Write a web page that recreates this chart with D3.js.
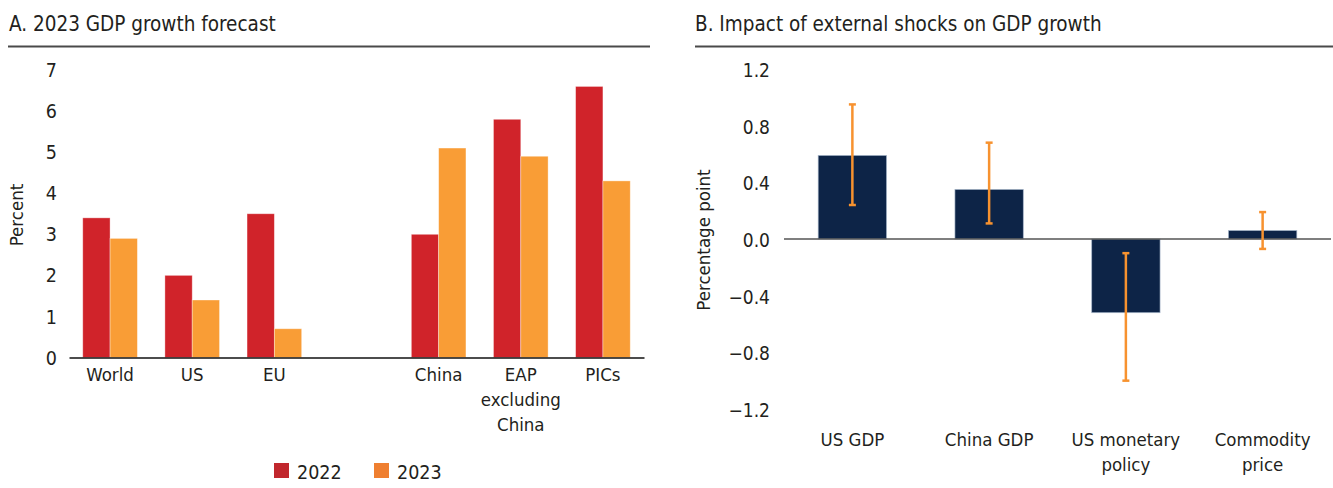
<!DOCTYPE html>
<html>
<head>
<meta charset="utf-8">
<script src="https://cdn.jsdelivr.net/npm/d3@7"></script>
<style>
  html, body { margin: 0; padding: 0; background: #fff; }
  svg { display: block; }
  text { font-family: "DejaVu Sans Condensed", "DejaVu Sans", sans-serif; fill: #231f20; }
</style>
</head>
<body>
<svg id="chart" width="1333" height="488"></svg>
<script>
// ---------- Panel A data ----------
const categoriesA = ["World", "US", "EU", "China", "EAP excluding China", "PICs"];
const seriesA = ["2022", "2023"];
const values2022 = [3.4, 2.0, 3.5, 3.0, 5.8, 6.6];
const values2023 = [2.9, 1.4, 0.7, 5.1, 4.9, 4.3];
const ticksA = [0, 1, 2, 3, 4, 5, 6, 7];
const labelLinesA = [["World"], ["US"], ["EU"], ["China"], ["EAP", "excluding", "China"], ["PICs"]];

// ---------- Panel B data ----------
const categoriesB = ["US GDP", "China GDP", "US monetary policy", "Commodity price"];
const labelLinesB = [["US GDP"], ["China GDP"], ["US monetary", "policy"], ["Commodity", "price"]];
const impactB = [0.59, 0.35, -0.52, 0.06];
const errLowB = [0.24, 0.11, -1.0, -0.07];
const errHighB = [0.95, 0.68, -0.10, 0.19];
const ticksB = [1.2, 0.8, 0.4, 0.0, -0.4, -0.8, -1.2];

const svg = d3.select("#chart");
const colA = { "2022": "#d0232a", "2023": "#f99d36" };
const legendCol = { "2022": "#c1272d", "2023": "#ef7f30" };
const FS = 18.5;

// ================= Panel A =================
const gapKey = "__gap__";
const domainA = [...categoriesA.slice(0, 3), gapKey, ...categoriesA.slice(3)];
const xA = d3.scaleBand().domain(domainA).range([69, 644]).paddingInner(0.335).paddingOuter(0.1675);
const xA2 = d3.scaleBand().domain(seriesA).range([0, xA.bandwidth()]);
const yA = d3.scaleLinear().domain([0, 7]).range([357.5, 70]);

const gA = svg.append("g");
gA.append("text").attr("x", 9).attr("y", 31).style("font-size", "20.5px").text("A. 2023 GDP growth forecast");
gA.append("line").attr("x1", 8).attr("x2", 650).attr("y1", 46.5).attr("y2", 46.5)
  .attr("stroke", "#4a4a4a").attr("stroke-width", 2);

// y axis (labels only)
const yAxisA = d3.axisLeft(yA).tickValues(ticksA).tickSize(0).tickPadding(0).tickFormat(d3.format("d"));
const yAxG = gA.append("g").attr("transform", "translate(57,0)").call(yAxisA);
yAxG.select(".domain").remove();
yAxG.selectAll("text").style("font-size", "19.5px").attr("dy", "0.34em").style("font-family", null);

gA.append("text").attr("transform", "translate(23,215) rotate(-90)").attr("text-anchor", "middle")
  .style("font-size", FS + "px").text("Percent");

const rowsA = categoriesA.map((c, i) => ({ cat: c, vals: [values2022[i], values2023[i]] }));
const groups = gA.append("g").selectAll("g").data(rowsA).join("g")
  .attr("transform", d => `translate(${xA(d.cat)},0)`);
groups.selectAll("rect").data(d => seriesA.map((s, j) => ({ s, v: d.vals[j] }))).join("rect")
  .attr("x", d => xA2(d.s)).attr("width", xA2.bandwidth())
  .attr("y", d => yA(d.v)).attr("height", d => yA(0) - yA(d.v))
  .attr("fill", d => colA[d.s])
  .attr("stroke", "rgba(255,255,255,0.45)").attr("stroke-width", 0.8);

// x axis
const xAxisA = d3.axisBottom(xA).tickSize(0).tickFormat("");
const xAxG = gA.append("g").attr("transform", `translate(0,${yA(0)})`).call(xAxisA);
xAxG.select(".domain").attr("stroke", "#111").attr("stroke-width", 1.6);
categoriesA.forEach((c, i) => {
  const t = gA.append("text").attr("text-anchor", "middle").style("font-size", FS + "px");
  labelLinesA[i].forEach((ln, k) => {
    t.append("tspan").attr("x", xA(c) + xA.bandwidth() / 2).attr("y", 381 + k * 25).text(ln);
  });
});

// legend
const legX = [274, 374];
seriesA.forEach((s, i) => {
  gA.append("rect").attr("x", legX[i]).attr("y", 463).attr("width", 15).attr("height", 15).attr("fill", legendCol[s]);
  gA.append("text").attr("x", legX[i] + 23).attr("y", 478.5).style("font-size", "19.5px").text(s);
});

// ================= Panel B =================
const xB = d3.scaleBand().domain(categoriesB).range([784, 1331]).paddingInner(0.5).paddingOuter(0.25);
const yB = d3.scaleLinear().domain([-1.2, 1.2]).range([409, 69]);
const gB = svg.append("g");
gB.append("text").attr("x", 695).attr("y", 31).style("font-size", "20.5px").text("B. Impact of external shocks on GDP growth");
gB.append("line").attr("x1", 695).attr("x2", 1333).attr("y1", 46.5).attr("y2", 46.5)
  .attr("stroke", "#4a4a4a").attr("stroke-width", 2);

const yAxisB = d3.axisLeft(yB).tickValues(ticksB).tickSize(0).tickPadding(0)
  .tickFormat(d => d3.format(".1f")(d).replace("-", "\u2212"));
const yBxG = gB.append("g").attr("transform", "translate(770,0)").call(yAxisB);
yBxG.select(".domain").remove();
yBxG.selectAll("text").style("font-size", "19px").attr("dy", "0.4em").style("font-family", null);

gB.append("text").attr("transform", "translate(710,240) rotate(-90)").attr("text-anchor", "middle")
  .style("font-size", FS + "px").text("Percentage point");

const rowsB = categoriesB.map((c, i) => ({ cat: c, v: impactB[i], lo: errLowB[i], hi: errHighB[i] }));
gB.append("g").selectAll("rect").data(rowsB).join("rect")
  .attr("x", d => xB(d.cat)).attr("width", xB.bandwidth())
  .attr("y", d => yB(Math.max(0, d.v))).attr("height", d => Math.abs(yB(d.v) - yB(0)))
  .attr("fill", "#0d2447").attr("stroke", "rgba(170,185,205,0.8)").attr("stroke-width", 0.8);

// zero line
gB.append("line").attr("x1", 784).attr("x2", 1331).attr("y1", yB(0)).attr("y2", yB(0))
  .attr("stroke", "#555").attr("stroke-width", 1.6);

// error bars
const eb = gB.append("g").attr("stroke", "#f7922f").attr("stroke-width", 2.5);
rowsB.forEach(d => {
  const cx = xB(d.cat) + xB.bandwidth() / 2;
  eb.append("line").attr("x1", cx).attr("x2", cx).attr("y1", yB(d.hi)).attr("y2", yB(d.lo));
  eb.append("line").attr("x1", cx - 3.5).attr("x2", cx + 3.5).attr("y1", yB(d.hi)).attr("y2", yB(d.hi));
  eb.append("line").attr("x1", cx - 3.5).attr("x2", cx + 3.5).attr("y1", yB(d.lo)).attr("y2", yB(d.lo));
});

categoriesB.forEach((c, i) => {
  const t = gB.append("text").attr("text-anchor", "middle").style("font-size", FS + "px");
  labelLinesB[i].forEach((ln, k) => {
    t.append("tspan").attr("x", xB(c) + xB.bandwidth() / 2).attr("y", 446 + k * 25).text(ln);
  });
});
</script>
</body>
</html>
